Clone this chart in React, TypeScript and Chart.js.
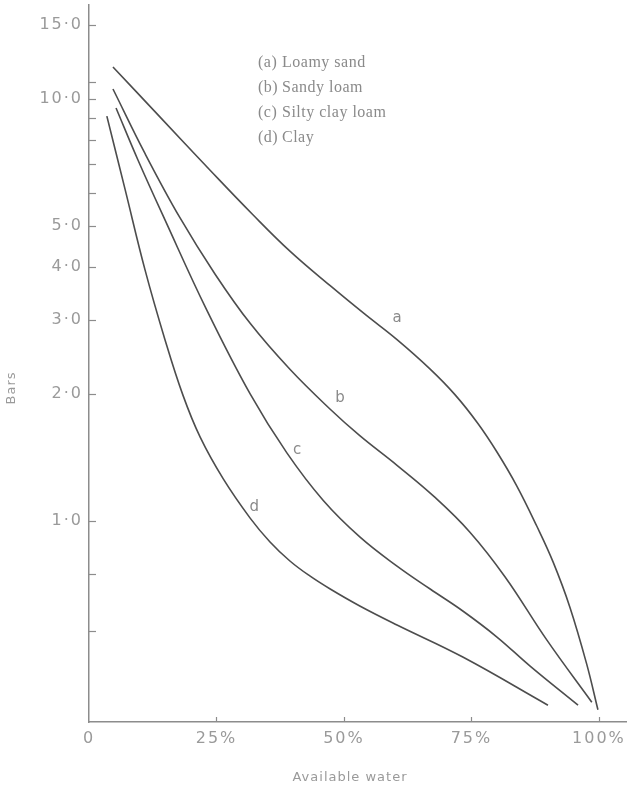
import { useEffect, useRef } from 'react';
import { Chart, registerables } from 'chart.js';

Chart.register(...registerables);

// ---------- data ----------
const X_TICKS = [0, 25, 50, 75, 100];
const X_TICK_LABELS = ['0', '25%', '50%', '75%', '100%'];
const Y_TICKS = [0.55, 0.75, 1, 2, 3, 4, 5, 6, 7, 8, 9, 10, 11, 15];
const Y_LABELLED = [1, 2, 3, 4, 5, 10, 15];
const Y_TICK_LABELS = ['1·0', '2·0', '3·0', '4·0', '5·0', '10·0', '15·0'];

const SERIES_KEYS = ['a', 'b', 'c', 'd'];
const SERIES_NAMES = ['Loamy sand', 'Sandy loam', 'Silty clay loam', 'Clay'];

const A_X = [4.7, 13.9, 23.7, 32.0, 39.4, 47.3, 54.1, 60.4, 66.9, 71.8, 76.3, 80.0, 83.9, 87.8, 91.0, 94.3, 97.6, 99.8];
const A_Y = [11.91, 9.07, 6.79, 5.34, 4.36, 3.61, 3.09, 2.69, 2.29, 1.99, 1.7, 1.457, 1.21, 0.973, 0.8, 0.625, 0.458, 0.357];

const B_X = [4.7, 11.0, 17.8, 24.7, 31.6, 39.4, 47.3, 53.1, 60.4, 67.8, 74.7, 81.6, 89.8, 98.6];
const B_Y = [10.56, 7.42, 5.24, 3.85, 2.94, 2.288, 1.84, 1.593, 1.355, 1.139, 0.941, 0.737, 0.522, 0.372];

const C_X = [5.3, 9.6, 14.9, 23.1, 31.6, 38.8, 45.9, 53.1, 60.4, 66.9, 73.3, 80.0, 86.5, 95.9];
const C_Y = [9.52, 7.17, 5.17, 3.16, 2.0, 1.45, 1.12, 0.917, 0.782, 0.69, 0.612, 0.531, 0.453, 0.366];

const D_X = [3.5, 7.1, 11.0, 14.9, 18.4, 21.8, 26.3, 31.6, 35.5, 39.4, 43.3, 47.3, 53.1, 60.4, 73.3, 90.0];
const D_Y = [9.11, 6.09, 3.93, 2.69, 1.99, 1.58, 1.26, 1.016, 0.892, 0.804, 0.741, 0.69, 0.629, 0.567, 0.476, 0.366];

const SERIES_X = [A_X, B_X, C_X, D_X];
const SERIES_Y = [A_Y, B_Y, C_Y, D_Y];

// where the curve letters sit (data coordinates)
const LETTER_X = [60.4, 49.2, 40.8, 32.4];
const LETTER_Y = [3.03, 1.96, 1.47, 1.08];

// ---------- chart ----------
const decorPlugin = {
  id: 'decor',
  beforeDraw(chart: any) {
    const { ctx, width, height } = chart;
    ctx.save();
    ctx.fillStyle = '#ffffff';
    ctx.fillRect(0, 0, width, height);
    ctx.restore();
    (ctx as any).letterSpacing = '2px';
  },
  afterDraw(chart: any) {
    const { ctx, chartArea, scales } = chart;
    const xs = scales.x;
    const ys = scales.y;
    ctx.save();
    (ctx as any).letterSpacing = '0px';
    ctx.strokeStyle = '#8c8c8c';
    ctx.lineWidth = 1.2;
    Y_TICKS.forEach((v) => {
      const py = Math.round(ys.getPixelForValue(v)) + 0.5;
      ctx.beginPath();
      ctx.moveTo(chartArea.left, py);
      ctx.lineTo(chartArea.left + 7, py);
      ctx.stroke();
    });
    X_TICKS.slice(1).forEach((v) => {
      const px = Math.round(xs.getPixelForValue(v)) + 0.5;
      ctx.beginPath();
      ctx.moveTo(px, chartArea.bottom);
      ctx.lineTo(px, chartArea.bottom - 5);
      ctx.stroke();
    });

    // curve letters
    ctx.fillStyle = '#8a8a8a';
    ctx.font = '15px "DejaVu Sans"';
    ctx.textAlign = 'center';
    ctx.textBaseline = 'middle';
    SERIES_KEYS.forEach((k, i) => {
      ctx.fillText(k, xs.getPixelForValue(LETTER_X[i]), ys.getPixelForValue(LETTER_Y[i]));
    });

    // legend block
    ctx.font = '16px "Liberation Serif"';
    (ctx as any).letterSpacing = '0.5px';
    ctx.textAlign = 'left';
    ctx.fillStyle = '#8a8a8a';
    SERIES_KEYS.forEach((k, i) => {
      const ly = 63 + i * 25;
      ctx.fillText('(' + k + ')', 258, ly);
      ctx.fillText(SERIES_NAMES[i], 282, ly);
    });

    // axis titles
    ctx.fillStyle = '#9a9a9a';
    ctx.font = '13px "DejaVu Sans"';
    (ctx as any).letterSpacing = '1px';
    ctx.textAlign = 'center';
    ctx.fillText('Available water', 350, 778);
    ctx.translate(12, 388);
    ctx.rotate(-Math.PI / 2);
    ctx.fillText('Bars', 0, 0);
    ctx.restore();
    (ctx as any).letterSpacing = '0px';
  },
};

export default function App() {
  const ref = useRef<HTMLCanvasElement | null>(null);

  useEffect(() => {
    if (!ref.current) return;
    Chart.defaults.font.family = '"DejaVu Sans", sans-serif';
    const chart = new Chart(ref.current, {
      type: 'line',
      data: {
        datasets: SERIES_KEYS.map((k, i) => ({
          label: SERIES_NAMES[i],
          data: SERIES_X[i].map((x, j) => ({ x, y: SERIES_Y[i][j] })),
          borderColor: '#4d4d4d',
          borderWidth: 1.6,
          pointRadius: 0,
          fill: false,
          tension: 0.4,
        })),
      },
      options: {
        responsive: false,
        animation: false,
        layout: { padding: { top: 5, left: 0, right: 0, bottom: 0 } },
        plugins: { legend: { display: false }, tooltip: { enabled: false } },
        scales: {
          x: {
            type: 'linear',
            bounds: 'data',
            min: 0,
            max: 105.5,
            afterBuildTicks: (s: any) => {
              s.ticks = X_TICKS.map((v) => ({ value: v }));
            },
            afterFit: (s: any) => {
              s.height = 73;
              s.paddingLeft = 0;
              s.paddingRight = 0;
            },
            ticks: {
              autoSkip: false,
              maxRotation: 0,
              padding: 7,
              color: '#9a9a9a',
              font: { size: 16 },
              callback: (v: any) => {
                const i = X_TICKS.indexOf(Number(v));
                return i >= 0 ? X_TICK_LABELS[i] : '';
              },
            },
            grid: { display: false, drawTicks: false },
            border: { display: true, color: '#8c8c8c', width: 1.5 },
          },
          y: {
            type: 'logarithmic',
            bounds: 'data',
            min: 0.334,
            max: 16.7,
            afterBuildTicks: (s: any) => {
              s.ticks = Y_TICKS.map((v) => ({ value: v }));
            },
            afterFit: (s: any) => {
              s.width = 89;
              s.paddingTop = 0;
              s.paddingBottom = 0;
            },
            ticks: {
              autoSkip: false,
              padding: 6,
              color: '#9a9a9a',
              font: { size: 16 },
              callback: (v: any) => {
                const i = Y_LABELLED.indexOf(Number(v));
                return i >= 0 ? Y_TICK_LABELS[i] : '';
              },
            },
            grid: { display: false, drawTicks: false },
            border: { display: true, color: '#8c8c8c', width: 1.5 },
          },
        },
      },
      plugins: [decorPlugin],
    });
    return () => chart.destroy();
  }, []);

  return (
    <div style={{ position: 'absolute', left: 0, top: 0, width: 627, height: 795, background: '#fff' }}>
      <canvas ref={ref} width={627} height={795} style={{ display: 'block', width: 627, height: 795 }} />
    </div>
  );
}
